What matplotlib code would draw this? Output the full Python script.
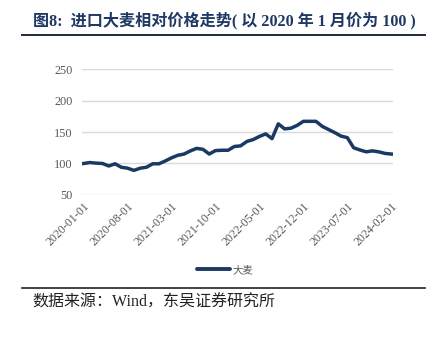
import matplotlib
matplotlib.use("Agg")
import matplotlib.pyplot as plt
from matplotlib.lines import Line2D
import pandas as pd

dates = pd.date_range("2020-01-01", "2024-02-01", freq="MS")
values = [100, 101.5, 100.5, 100, 96, 99.5, 94, 92.5, 89, 92.5,
          94, 99.5, 99.5, 104, 109, 113, 115, 120, 124, 122.5,
          115, 120.5, 121, 121, 127, 128, 135, 138, 143, 147,
          139.5, 163, 155, 156, 160.5, 167, 167, 167, 159, 154,
          149, 143.5, 141, 125, 121.5, 118.5, 120, 118.5, 116, 115]
yticks = [50, 100, 150, 200, 250]
tick_step = 7

title = "图8:  进口大麦相对价格走势( 以 2020 年 1 月价为 100 )"
source = "数据来源：Wind，东吴证券研究所"
series_name = "大麦"

fam = ["Liberation Serif", "Noto Sans CJK SC", "DejaVu Sans"]
line_color = "#1b3a63"

fig = plt.figure(figsize=(4.41, 3.42), dpi=100)
ax = fig.add_axes([0.186, 0.430, 0.705, 0.368])

x = list(range(len(values)))
ax.plot(x, values, color=line_color, lw=2.5, solid_joinstyle="round")
ax.set_ylim(50, 250)
ax.set_xlim(-0.26, len(values) - 1 + 0.26)
ax.set_yticks(yticks)
ax.set_yticklabels([str(v) for v in yticks], family=fam, fontsize=8.8, color="#595959")
tpos = list(range(0, len(values), tick_step))
ax.set_xticks(tpos)
ax.set_xticklabels([dates[i].strftime("%Y-%m-%d") for i in tpos], rotation=45,
                   ha="right", va="top", rotation_mode="anchor",
                   family=fam, fontsize=8.6, color="#595959")
ax.tick_params(axis="y", length=0, pad=7)
ax.tick_params(axis="x", length=0, pad=4)
ax.grid(axis="y", color="#d9d9d9", lw=1)
for s in ax.spines.values():
    s.set_visible(False)
ax.set_axisbelow(True)

# legend
handle = Line2D([0], [0], color=line_color, lw=2.8, solid_capstyle="round")
leg = fig.legend([handle], [series_name], loc="center", bbox_to_anchor=(0.51, 0.21),
                 frameon=False, prop={"family": fam, "size": 7.5}, handlelength=3.2,
                 handletextpad=0.2)
for t in leg.get_texts():
    t.set_color("#595959")

# title and source
fig.text(0.075, 0.94, title, family=fam, fontsize=11.6, fontweight="bold",
         color="#1f3864", ha="left", va="center")
fig.add_artist(Line2D([0.05, 0.964], [0.897, 0.897], color="#1f2a3c", lw=1.4))
fig.add_artist(Line2D([0.05, 0.964], [0.159, 0.159], color="#222222", lw=1.2))
fig.text(0.073, 0.116, source, family=fam, fontsize=11.5, color="#222222",
         ha="left", va="center")

fig.savefig("out.png", dpi=100)
